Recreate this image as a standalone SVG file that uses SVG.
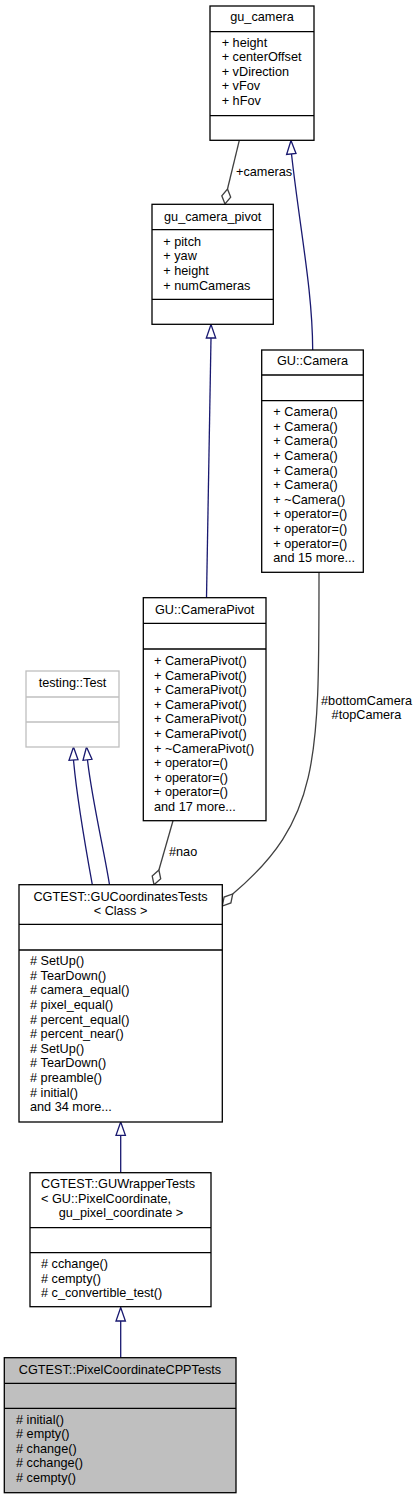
<svg xmlns="http://www.w3.org/2000/svg" width="419" height="1499" viewBox="0 0 419 1499">
<style>
text{font-family:"Liberation Sans",Arial,sans-serif;font-size:12.7px;fill:#000}
.t{text-anchor:middle}
.box{fill:#fff;stroke:#000;stroke-width:1.3}
.ext{fill:#fff;stroke:#bfbfbf;stroke-width:1.3}
.hl{fill:#bfbfbf;stroke:#000;stroke-width:1.3}
.sep{stroke:#000;stroke-width:1.3}
.sepx{stroke:#bfbfbf;stroke-width:1.3}
.inh{fill:none;stroke:#191970;stroke-width:1.3}
.tri{fill:#fff;stroke:#191970;stroke-width:1.3}
.use{fill:none;stroke:#404040;stroke-width:1.3}
.dia{fill:#fff;stroke:#404040;stroke-width:1.3}
</style>
<rect width="419" height="1499" fill="#fff"/>

<g id="connectors">
  <!-- GU::Camera -> gu_camera inheritance -->
  <path class="inh" d="M291.5,154 C300,230 312.5,290 312.7,350"/>
  <polygon class="tri" points="291,140.5 286.6,154.5 296,153.5"/>
  <!-- GU::CameraPivot -> gu_camera_pivot inheritance -->
  <path class="inh" d="M211,338 L206.5,598"/>
  <polygon class="tri" points="211,324.5 206.3,338 215.7,338"/>
  <!-- gu_camera -> gu_camera_pivot association -->
  <path class="use" d="M239.3,140.3 L227.5,189"/>
  <polygon class="dia" points="227.5,189 230.7,197.2 225,204 221.8,195.8"/>
  <text x="236" y="175.7">+cameras</text>
  <!-- testing::Test inheritance (two) -->
  <path class="inh" d="M73.5,760 C77,800 86,850 92.3,884.7"/>
  <polygon class="tri" points="73.5,747 69,760.3 78,759.7"/>
  <path class="inh" d="M87.5,760 C92,800 104,850 109.5,884.7"/>
  <polygon class="tri" points="86.5,747 83,760.3 92,759.3"/>
  <!-- GU::CameraPivot -> GUCoordinatesTests association #nao -->
  <path class="use" d="M173,820.7 L158.9,870"/>
  <polygon class="dia" points="158.9,870 160.7,878.8 154,884.7 152.2,875.9"/>
  <text x="169" y="855.7">#nao</text>
  <!-- GU::Camera -> GUCoordinatesTests association -->
  <path class="use" d="M319,572.3 C319,760 320,820 232.7,894"/>
  <polygon class="dia" points="232.7,894 230.9,902.9 222.3,906 224.1,897.1"/>
  <text class="t" x="366.5" y="704.5">#bottomCamera</text>
  <text class="t" x="366.5" y="719">#topCamera</text>
  <!-- GUWrapperTests -> GUCoordinatesTests inheritance -->
  <path class="inh" d="M120.7,1135 L120.7,1172.7"/>
  <polygon class="tri" points="120.7,1122 116,1135.3 125.4,1135.3"/>
  <!-- PixelCoordinateCPPTests -> GUWrapperTests inheritance -->
  <path class="inh" d="M120.7,1321 L120.7,1357.7"/>
  <polygon class="tri" points="120.7,1307.5 116,1321 125.4,1321"/>
</g>

<g id="gu_camera">
  <rect class="box" x="210" y="6" width="104" height="134.3"/>
  <line class="sep" x1="210" y1="31.7" x2="314" y2="31.7"/>
  <line class="sep" x1="210" y1="115.7" x2="314" y2="115.7"/>
  <text class="t" x="262" y="21">gu_camera</text>
  <text x="221.7" y="46.5">+ height</text>
  <text x="221.7" y="61.1">+ centerOffset</text>
  <text x="221.7" y="75.8">+ vDirection</text>
  <text x="221.7" y="90.4">+ vFov</text>
  <text x="221.7" y="105">+ hFov</text>
</g>

<g id="gu_camera_pivot">
  <rect class="box" x="152" y="204.3" width="121.3" height="120"/>
  <line class="sep" x1="152" y1="229.7" x2="273.3" y2="229.7"/>
  <line class="sep" x1="152" y1="299.3" x2="273.3" y2="299.3"/>
  <text class="t" x="212.7" y="220.5">gu_camera_pivot</text>
  <text x="163.3" y="245.7">+ pitch</text>
  <text x="163.3" y="260.3">+ yaw</text>
  <text x="163.3" y="275">+ height</text>
  <text x="163.3" y="289.6">+ numCameras</text>
</g>

<g id="GU_Camera">
  <rect class="box" x="261.7" y="350" width="101.6" height="222.3"/>
  <line class="sep" x1="261.7" y1="375" x2="363.3" y2="375"/>
  <line class="sep" x1="261.7" y1="400.7" x2="363.3" y2="400.7"/>
  <text class="t" x="312.5" y="365">GU::Camera</text>
  <text x="273.3" y="416">+ Camera()</text>
  <text x="273.3" y="430.6">+ Camera()</text>
  <text x="273.3" y="445.3">+ Camera()</text>
  <text x="273.3" y="459.9">+ Camera()</text>
  <text x="273.3" y="474.5">+ Camera()</text>
  <text x="273.3" y="489.2">+ Camera()</text>
  <text x="273.3" y="503.8">+ ~Camera()</text>
  <text x="273.3" y="518.4">+ operator=()</text>
  <text x="273.3" y="533">+ operator=()</text>
  <text x="273.3" y="547.7">+ operator=()</text>
  <text x="273.3" y="562.3">and 15 more...</text>
</g>

<g id="GU_CameraPivot">
  <rect class="box" x="143.3" y="597.7" width="122.7" height="223"/>
  <line class="sep" x1="143.3" y1="623.3" x2="266" y2="623.3"/>
  <line class="sep" x1="143.3" y1="649" x2="266" y2="649"/>
  <text class="t" x="204.7" y="614">GU::CameraPivot</text>
  <text x="154" y="665">+ CameraPivot()</text>
  <text x="154" y="679.6">+ CameraPivot()</text>
  <text x="154" y="694.2">+ CameraPivot()</text>
  <text x="154" y="708.8">+ CameraPivot()</text>
  <text x="154" y="723.4">+ CameraPivot()</text>
  <text x="154" y="738">+ CameraPivot()</text>
  <text x="154" y="752.6">+ ~CameraPivot()</text>
  <text x="154" y="767.2">+ operator=()</text>
  <text x="154" y="781.8">+ operator=()</text>
  <text x="154" y="796.4">+ operator=()</text>
  <text x="154" y="811">and 17 more...</text>
</g>

<g id="testing_Test">
  <rect class="ext" x="26" y="671" width="93" height="76"/>
  <line class="sepx" x1="26" y1="697" x2="119" y2="697"/>
  <line class="sepx" x1="26" y1="722" x2="119" y2="722"/>
  <text class="t" x="72.5" y="686.7">testing::Test</text>
</g>

<g id="GUCoordinatesTests">
  <rect class="box" x="19" y="884.7" width="203.3" height="237.3"/>
  <line class="sep" x1="19" y1="924.3" x2="222.3" y2="924.3"/>
  <line class="sep" x1="19" y1="950" x2="222.3" y2="950"/>
  <text class="t" x="120.5" y="900.5">CGTEST::GUCoordinatesTests</text>
  <text class="t" x="120.5" y="915">&lt; Class &gt;</text>
  <text x="30" y="965">#&#160;SetUp()</text>
  <text x="30" y="979.6">#&#160;TearDown()</text>
  <text x="30" y="994.3">#&#160;camera_equal()</text>
  <text x="30" y="1008.9">#&#160;pixel_equal()</text>
  <text x="30" y="1023.5">#&#160;percent_equal()</text>
  <text x="30" y="1038.2">#&#160;percent_near()</text>
  <text x="30" y="1052.8">#&#160;SetUp()</text>
  <text x="30" y="1067.4">#&#160;TearDown()</text>
  <text x="30" y="1082">#&#160;preamble()</text>
  <text x="30" y="1096.7">#&#160;initial()</text>
  <text x="30" y="1111.3">and 34 more...</text>
</g>

<g id="GUWrapperTests">
  <rect class="box" x="30" y="1172.7" width="181" height="134"/>
  <line class="sep" x1="30" y1="1227.7" x2="211" y2="1227.7"/>
  <line class="sep" x1="30" y1="1252.7" x2="211" y2="1252.7"/>
  <text x="41" y="1188.3">CGTEST::GUWrapperTests</text>
  <text x="41" y="1202.8">&lt; GU::PixelCoordinate,</text>
  <text class="t" x="121" y="1217.3">gu_pixel_coordinate &gt;</text>
  <text x="41" y="1268.3">#&#160;cchange()</text>
  <text x="41" y="1282.8">#&#160;cempty()</text>
  <text x="41" y="1297.3">#&#160;c_convertible_test()</text>
</g>

<g id="PixelCoordinateCPPTests">
  <rect class="hl" x="4.3" y="1357.7" width="231.7" height="135"/>
  <line class="sep" x1="4.3" y1="1383.3" x2="236" y2="1383.3"/>
  <line class="sep" x1="4.3" y1="1408.3" x2="236" y2="1408.3"/>
  <text class="t" x="120" y="1374">CGTEST::PixelCoordinateCPPTests</text>
  <text x="16" y="1423.5">#&#160;initial()</text>
  <text x="16" y="1438">#&#160;empty()</text>
  <text x="16" y="1452.6">#&#160;change()</text>
  <text x="16" y="1467.2">#&#160;cchange()</text>
  <text x="16" y="1481.8">#&#160;cempty()</text>
</g>
</svg>
